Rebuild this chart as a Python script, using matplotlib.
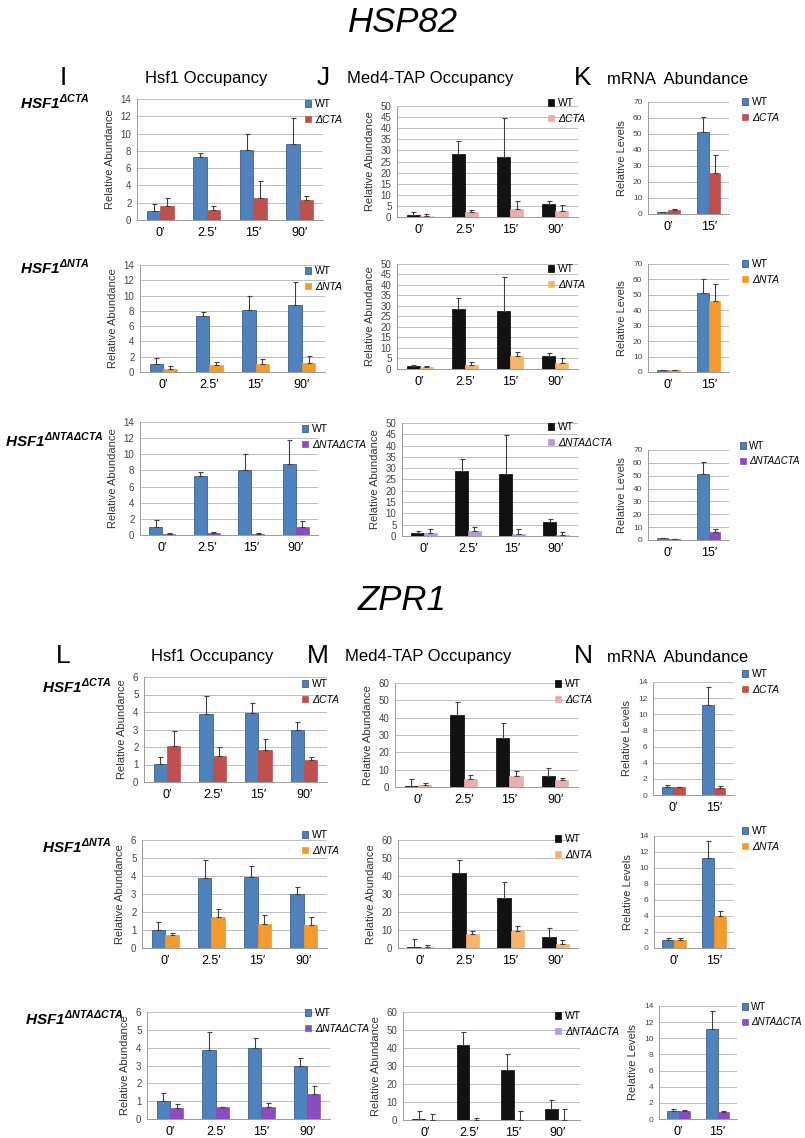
import matplotlib
matplotlib.use("Agg")
import matplotlib.pyplot as plt
import numpy as np

plt.rcParams['font.family'] = ['Liberation Sans', 'DejaVu Sans']
plt.rcParams['mathtext.fontset'] = 'custom'
plt.rcParams['mathtext.bfit'] = 'Liberation Sans:italic:bold'
plt.rcParams['mathtext.rm'] = 'Liberation Sans'

# ---- data ----
times4 = ["0\u2032", "2.5\u2032", "15\u2032", "90\u2032"]
times2 = ["0\u2032", "15\u2032"]

# HSP82 - Hsf1 occupancy
hsp_hsf1_wt = [1.0, 7.3, 8.1, 8.8]
hsp_hsf1_wt_err = [0.8, 0.5, 1.9, 3.0]
hsp_hsf1_dcta = [1.6, 1.2, 2.6, 2.3]
hsp_hsf1_dcta_err = [1.0, 0.4, 1.9, 0.5]
hsp_hsf1_dnta = [0.45, 0.95, 1.1, 1.2]
hsp_hsf1_dnta_err = [0.35, 0.4, 0.6, 0.9]
hsp_hsf1_dboth = [0.15, 0.25, 0.15, 1.0]
hsp_hsf1_dboth_err = [0.05, 0.15, 0.05, 0.7]

# HSP82 - Med4-TAP occupancy
hsp_med_wt = [1.0, 28.3, 27.1, 6.0]
hsp_med_wt_err = [1.2, 5.9, 17.3, 1.4]
hsp_med_dcta = [0.6, 2.3, 3.6, 2.9]
hsp_med_dcta_err = [0.9, 1.0, 3.8, 2.7]
hsp_med_wt2 = [1.2, 28.5, 27.5, 6.0]
hsp_med_wt2_err = [0.8, 5.5, 16.5, 1.5]
hsp_med_dnta = [0.8, 2.0, 6.0, 3.0]
hsp_med_dnta_err = [0.6, 1.5, 2.0, 2.0]
hsp_med_wt3 = [1.3, 28.8, 27.4, 6.2]
hsp_med_wt3_err = [1.1, 5.2, 17.2, 1.3]
hsp_med_dboth = [1.2, 2.2, 0.9, 0.6]
hsp_med_dboth_err = [2.0, 1.8, 2.0, 1.3]

# HSP82 - mRNA
hsp_rna_wt = [1.2, 51.3]
hsp_rna_wt_err = [0.2, 9.1]
hsp_rna_dcta = [2.7, 25.9]
hsp_rna_dcta_err = [0.6, 10.9]
hsp_rna_dnta = [1.2, 46.0]
hsp_rna_dnta_err = [0.3, 11.0]
hsp_rna_dboth = [0.8, 6.0]
hsp_rna_dboth_err = [0.2, 2.5]

# ZPR1 - Hsf1 occupancy
zpr_hsf1_wt = [1.02, 3.89, 3.97, 3.0]
zpr_hsf1_wt_err = [0.42, 1.0, 0.57, 0.41]
zpr_hsf1_dcta = [2.07, 1.49, 1.82, 1.28]
zpr_hsf1_dcta_err = [0.84, 0.52, 0.63, 0.14]
zpr_hsf1_dnta = [0.75, 1.75, 1.35, 1.3]
zpr_hsf1_dnta_err = [0.1, 0.4, 0.5, 0.4]
zpr_hsf1_dboth = [0.62, 0.65, 0.69, 1.42]
zpr_hsf1_dboth_err = [0.22, 0.04, 0.21, 0.41]

# ZPR1 - Med4-TAP occupancy
zpr_med_wt = [0.8, 41.6, 28.0, 6.2]
zpr_med_wt_err = [4.0, 7.3, 8.8, 5.0]
zpr_med_dcta = [1.2, 4.8, 6.4, 3.9]
zpr_med_dcta_err = [1.3, 2.0, 2.9, 1.5]
zpr_med_dnta = [0.8, 8.0, 9.5, 2.5]
zpr_med_dnta_err = [0.8, 1.5, 2.5, 2.0]
zpr_med_dboth = [0.2, 0.2, 0.2, 0.2]
zpr_med_dboth_err = [3.3, 1.1, 5.0, 6.1]

# ZPR1 - mRNA
zpr_rna_wt = [1.03, 11.2]
zpr_rna_wt_err = [0.2, 2.2]
zpr_rna_dcta = [0.95, 0.9]
zpr_rna_dcta_err = [0.08, 0.25]
zpr_rna_dnta = [0.95, 4.0]
zpr_rna_dnta_err = [0.25, 0.6]
zpr_rna_dboth = [0.94, 0.82]
zpr_rna_dboth_err = [0.16, 0.12]

# colours
c_wt = "#4F81BD"
c_cta = "#C0504D"
c_nta = "#F59A2C"
c_both = "#8A4CBF"
c_wt_med = "#111111"
c_cta_med = "#E9AEAE"
c_nta_med = "#F8B56A"
c_both_med = "#B99AD9"

W, H = 805, 1138
fig = plt.figure(figsize=(W / 100, H / 100), dpi=100)


def box(l, t, r, b):
    return [l / W, 1 - b / H, (r - l) / W, (b - t) / H]


def fx(x):
    return x / W


def fy(y):
    return 1 - y / H


def panel(rect, cats, wt, wt_err, mut, mut_err, wt_col, mut_col, mut_name,
          ymax, ystep, ylabel, leg_xy, ytick_fs=7, leg_fs=7.5):
    ax = fig.add_axes(box(*rect))
    x = np.arange(len(cats))
    w = 0.29
    ax.bar(x - w / 2, wt, w, color=wt_col, edgecolor="#2c4d75" if wt_col != c_wt_med else "#000000",
           linewidth=0.5, label="WT", zorder=2)
    ax.bar(x + w / 2, mut, w, color=mut_col, edgecolor=mut_col, linewidth=0.5,
           label=mut_name, zorder=2)
    ax.errorbar(x - w / 2, wt, yerr=[np.zeros(len(wt)), wt_err], fmt="none",
                ecolor="#404040", elinewidth=0.8, capsize=1.8, capthick=0.8, zorder=3)
    ax.errorbar(x + w / 2, mut, yerr=[np.zeros(len(mut)), mut_err], fmt="none",
                ecolor="#404040", elinewidth=0.8, capsize=1.8, capthick=0.8, zorder=3)
    ax.set_xlim(-0.5, len(cats) - 0.5)
    ax.set_ylim(0, ymax)
    ax.set_yticks(np.arange(0, ymax + ystep / 2, ystep))
    ax.yaxis.grid(True, color="#BDBDBD", linewidth=0.7)
    ax.set_axisbelow(True)
    for s in ["top", "right"]:
        ax.spines[s].set_visible(False)
    for s in ["left", "bottom"]:
        ax.spines[s].set_color("#9A9A9A")
        ax.spines[s].set_linewidth(0.7)
    ax.tick_params(axis="y", length=0, labelsize=ytick_fs, labelcolor="#444444", pad=4)
    ax.tick_params(axis="x", length=0, labelsize=9, pad=5)
    ax.set_xticks(x)
    ax.set_xticklabels(cats)
    ax.set_ylabel(ylabel, fontsize=8, color="#333333", labelpad=4)
    leg = ax.legend(loc="upper left", bbox_to_anchor=(fx(leg_xy[0]), fy(leg_xy[1] - 6)),
                    bbox_transform=fig.transFigure, frameon=False, fontsize=leg_fs,
                    handlelength=0.6, handleheight=0.6, handletextpad=0.35,
                    labelspacing=0.55, borderpad=0, borderaxespad=0)
    leg.get_texts()[1].set_fontstyle("italic")
    return ax


# ---- headings ----
fig.text(0.5, fy(22), "HSP82", fontsize=25, style="italic", ha="center", va="center")
fig.text(0.5, fy(600), "ZPR1", fontsize=25, style="italic", ha="center", va="center")

for letter, lx, title, tx, ty in [
        ("I", 63, "Hsf1 Occupancy", 206, 78), ("J", 323, "Med4-TAP Occupancy", 430, 78),
        ("K", 583, "mRNA  Abundance", 678, 78), ("L", 63, "Hsf1 Occupancy", 212, 656),
        ("M", 318, "Med4-TAP Occupancy", 428, 656), ("N", 583, "mRNA  Abundance", 678, 656)]:
    fig.text(fx(lx), fy(ty), letter, fontsize=19, ha="center", va="center")
    fig.text(fx(tx), fy(ty + 1), title, fontsize=12, ha="center", va="center")

row_labels = [
    (20, 102, "\u0394CTA"), (20, 267, "\u0394NTA"), (5, 440, "\u0394NTA\u0394CTA"),
    (42, 686, "\u0394CTA"), (42, 846, "\u0394NTA"), (25, 1018, "\u0394NTA\u0394CTA")]
for lx, ly, sup in row_labels:
    fig.text(fx(lx), fy(ly), r"$\mathbfit{HSF1}^{\mathbfit{%s}}$" % sup,
             fontsize=11, ha="left", va="center")

RA = "Relative Abundance"
RL = "Relative Levels"

# ---- HSP82 ----
panel((137, 99, 323, 220), times4, hsp_hsf1_wt, hsp_hsf1_wt_err, hsp_hsf1_dcta,
      hsp_hsf1_dcta_err, c_wt, c_cta, "\u0394CTA", 14, 2, RA, (305, 105))
panel((140, 265, 325, 372), times4, hsp_hsf1_wt, hsp_hsf1_wt_err, hsp_hsf1_dnta,
      hsp_hsf1_dnta_err, c_wt, c_nta, "\u0394NTA", 14, 2, RA, (305, 272))
panel((140, 422, 318, 535), times4, hsp_hsf1_wt, hsp_hsf1_wt_err, hsp_hsf1_dboth,
      hsp_hsf1_dboth_err, c_wt, c_both, "\u0394NTA\u0394CTA", 14, 2, RA, (302, 430))

panel((397, 106, 578, 217), times4, hsp_med_wt, hsp_med_wt_err, hsp_med_dcta,
      hsp_med_dcta_err, c_wt_med, c_cta_med, "\u0394CTA", 50, 5, RA, (548, 104))
panel((397, 264, 578, 369), times4, hsp_med_wt2, hsp_med_wt2_err, hsp_med_dnta,
      hsp_med_dnta_err, c_wt_med, c_nta_med, "\u0394NTA", 50, 5, RA, (548, 270))
panel((402, 423, 578, 536), times4, hsp_med_wt3, hsp_med_wt3_err, hsp_med_dboth,
      hsp_med_dboth_err, c_wt_med, c_both_med, "\u0394NTA\u0394CTA", 50, 5, RA, (548, 428))

panel((648, 102, 729, 214), times2, hsp_rna_wt, hsp_rna_wt_err, hsp_rna_dcta,
      hsp_rna_dcta_err, c_wt, c_cta, "\u0394CTA", 70, 10, RL, (742, 103), ytick_fs=6)
panel((648, 264, 729, 372), times2, hsp_rna_wt, hsp_rna_wt_err, hsp_rna_dnta,
      hsp_rna_dnta_err, c_wt, c_nta, "\u0394NTA", 70, 10, RL, (742, 265), ytick_fs=6)
panel((648, 450, 729, 540), times2, hsp_rna_wt, hsp_rna_wt_err, hsp_rna_dboth,
      hsp_rna_dboth_err, c_wt, c_both, "\u0394NTA\u0394CTA", 70, 10, RL, (740, 447),
      ytick_fs=6, leg_fs=7)

# ---- ZPR1 ----
panel((144, 677, 327, 782), times4, zpr_hsf1_wt, zpr_hsf1_wt_err, zpr_hsf1_dcta,
      zpr_hsf1_dcta_err, c_wt, c_cta, "\u0394CTA", 6, 1, RA, (302, 685))
panel((142, 840, 327, 948), times4, zpr_hsf1_wt, zpr_hsf1_wt_err, zpr_hsf1_dnta,
      zpr_hsf1_dnta_err, c_wt, c_nta, "\u0394NTA", 6, 1, RA, (302, 836))
panel((147, 1012, 330, 1119), times4, zpr_hsf1_wt, zpr_hsf1_wt_err, zpr_hsf1_dboth,
      zpr_hsf1_dboth_err, c_wt, c_both, "\u0394NTA\u0394CTA", 6, 1, RA, (305, 1014))

panel((395, 683, 578, 787), times4, zpr_med_wt, zpr_med_wt_err, zpr_med_dcta,
      zpr_med_dcta_err, c_wt_med, c_cta_med, "\u0394CTA", 60, 10, RA, (555, 685))
panel((398, 840, 578, 948), times4, zpr_med_wt, zpr_med_wt_err, zpr_med_dnta,
      zpr_med_dnta_err, c_wt_med, c_nta_med, "\u0394NTA", 60, 10, RA, (555, 840))
panel((403, 1012, 580, 1120), times4, zpr_med_wt, zpr_med_wt_err, zpr_med_dboth,
      zpr_med_dboth_err, c_wt_med, c_both_med, "\u0394NTA\u0394CTA", 60, 10, RA, (555, 1017))

panel((653, 682, 734, 795), times2, zpr_rna_wt, zpr_rna_wt_err, zpr_rna_dcta,
      zpr_rna_dcta_err, c_wt, c_cta, "\u0394CTA", 14, 2, RL, (742, 675), ytick_fs=6)
panel((654, 836, 734, 948), times2, zpr_rna_wt, zpr_rna_wt_err, zpr_rna_dnta,
      zpr_rna_dnta_err, c_wt, c_nta, "\u0394NTA", 14, 2, RL, (742, 832), ytick_fs=6)
panel((659, 1006, 737, 1119), times2, zpr_rna_wt, zpr_rna_wt_err, zpr_rna_dboth,
      zpr_rna_dboth_err, c_wt, c_both, "\u0394NTA\u0394CTA", 14, 2, RL, (742, 1008),
      ytick_fs=6, leg_fs=7)

fig.savefig("out.png", dpi=100)
